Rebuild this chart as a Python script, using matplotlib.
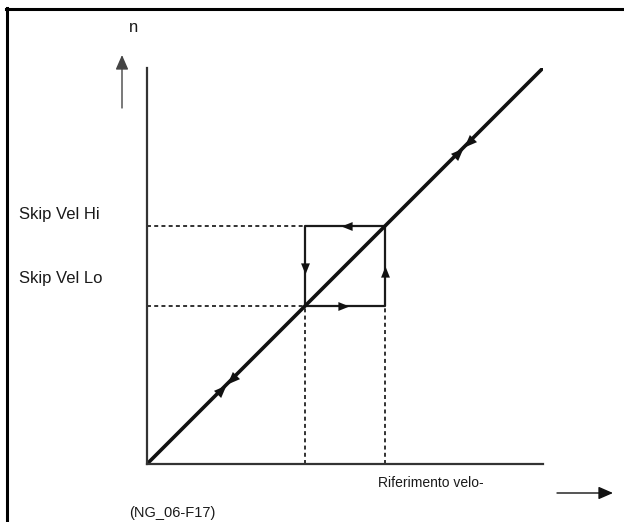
import matplotlib
matplotlib.use("Agg")
import numpy as np
import matplotlib.pyplot as plt
from matplotlib.lines import Line2D
from matplotlib.path import Path
from matplotlib.patches import FancyArrowPatch

plt.rcParams['font.family'] = ['Liberation Sans', 'DejaVu Sans']

# ---- data (speed reference vs. output speed n, in % units) ----
ref_line_x = [0, 100]
ref_line_y = [0, 100]
skip_vel_lo = 40
skip_vel_hi = 60
axis_max = 100
# arrow tip positions along the lines (data units)
diag_arrow_pos = [20, 80]
box_top_arrow_x = 49
box_bottom_arrow_x = 51
box_left_arrow_y = 48
box_right_arrow_y = 50

label_hi = "Skip Vel Hi"
label_lo = "Skip Vel Lo"
label_y = "n"
label_x = "Riferimento velo-"
label_fig = "(NG_06-F17)"

W, H = 624, 522
fig = plt.figure(figsize=(W / 100, H / 100), dpi=100)
fig.patch.set_facecolor("white")


def fx(x):
    return x / W


def fy(y):
    return 1 - y / H


# axes placed so that origin is at pixel (147, 464)
ax = fig.add_axes([fx(147), fy(464), 396 / W, 396 / H])
ax.set_xlim(0, axis_max)
ax.set_ylim(0, axis_max)
ax.set_facecolor("none")
for s in ["top", "right"]:
    ax.spines[s].set_visible(False)
for s in ["left", "bottom"]:
    ax.spines[s].set_linewidth(1.6)
    ax.spines[s].set_color("#333333")
ax.set_xticks([])
ax.set_yticks([])

dash = (0, (2.2, 1.8))
dcol = "#222222"
dlw = 1.3
# dashed guide lines
ax.plot([0, skip_vel_lo], [skip_vel_hi, skip_vel_hi], color=dcol, lw=dlw, linestyle=dash)
ax.plot([0, skip_vel_lo], [skip_vel_lo, skip_vel_lo], color=dcol, lw=dlw, linestyle=dash)
ax.plot([skip_vel_lo, skip_vel_lo], [0, skip_vel_lo], color=dcol, lw=dlw, linestyle=dash)
ax.plot([skip_vel_hi, skip_vel_hi], [0, skip_vel_lo], color=dcol, lw=dlw, linestyle=dash)

# hysteresis box
bcol = "#1a1a1a"
blw = 1.6
ax.plot([skip_vel_lo, skip_vel_hi, skip_vel_hi, skip_vel_lo, skip_vel_lo],
        [skip_vel_lo, skip_vel_lo, skip_vel_hi, skip_vel_hi, skip_vel_lo],
        color=bcol, lw=blw, solid_capstyle="butt")

# main reference line
ax.plot(ref_line_x, ref_line_y, color="#111111", lw=2.6, solid_capstyle="butt")


def tip_marker(angle_deg, half_w=0.4):
    """Triangle marker path with its tip at the origin, pointing along angle."""
    a = np.deg2rad(angle_deg)
    R = np.array([[np.cos(a), -np.sin(a)], [np.sin(a), np.cos(a)]])
    v = np.array([[0, 0], [-1, half_w], [-1, -half_w], [0, 0]]) @ R.T
    return Path(v, [Path.MOVETO, Path.LINETO, Path.LINETO, Path.CLOSEPOLY])


def head(x, y, angle, size):
    ax.plot([x], [y], marker=tip_marker(angle), markersize=size,
            color="#111111", markeredgewidth=0, clip_on=False)


# box arrows
head(box_top_arrow_x, skip_vel_hi, 180, 16)
head(box_bottom_arrow_x, skip_vel_lo, 0, 16)
head(skip_vel_lo, box_left_arrow_y, -90, 16)
head(skip_vel_hi, box_right_arrow_y, 90, 16)

# diagonal arrows (pairs facing each other, tips touching)
for p in diag_arrow_pos:
    head(p - 0.1, p - 0.1, 45, 18)
    head(p + 0.1, p + 0.1, 225, 18)

# ---- decorations in figure coordinates ----
frame_col = "#000000"
fig.add_artist(Line2D([fx(6), fx(624)], [fy(9), fy(9)], color=frame_col, lw=2.2,
                      transform=fig.transFigure))
fig.add_artist(Line2D([fx(7), fx(7)], [fy(8), fy(522)], color=frame_col, lw=2.2,
                      transform=fig.transFigure))

# direction arrows
fig.add_artist(FancyArrowPatch(
    (fx(122), fy(108)), (fx(122), fy(55)), transform=fig.transFigure,
    arrowstyle="-|>,head_length=0.8,head_width=0.35", mutation_scale=11,
    lw=1.0, color="#444444", shrinkA=0, shrinkB=0))
fig.add_artist(FancyArrowPatch(
    (fx(557), fy(493)), (fx(613), fy(493)), transform=fig.transFigure,
    arrowstyle="-|>,head_length=0.8,head_width=0.35", mutation_scale=11,
    lw=1.0, color="#111111", shrinkA=0, shrinkB=0))

tcol = "#1a1a1a"
fig.text(fx(134), fy(28), label_y, ha="center", va="center", fontsize=12, color=tcol)
fig.text(fx(19), fy(214), label_hi, ha="left", va="center", fontsize=12, color=tcol)
fig.text(fx(19), fy(278), label_lo, ha="left", va="center", fontsize=12, color=tcol)
fig.text(fx(378), fy(483), label_x, ha="left", va="center", fontsize=10, color=tcol)
fig.text(fx(129), fy(513), label_fig, ha="left", va="center", fontsize=10.5, color=tcol)

fig.savefig("out.png", dpi=100, facecolor="white")
